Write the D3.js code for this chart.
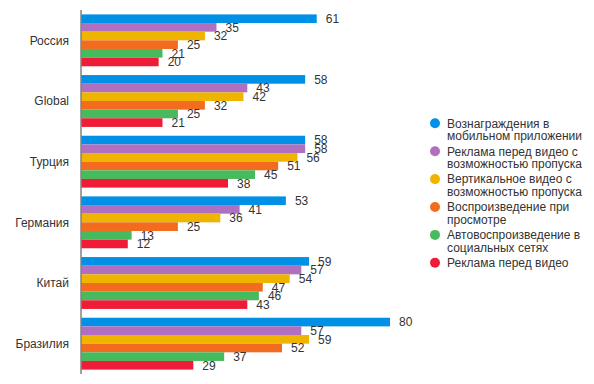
<!DOCTYPE html>
<html>
<head>
<meta charset="utf-8">
<script src="https://cdn.jsdelivr.net/npm/d3@7"></script>
<style>
  body { margin: 0; background: #fff; }
  text { font-family: Arial, "Liberation Sans", sans-serif; font-size: 12px; fill: #333; }
</style>
</head>
<body>
<svg class="scene"></svg>
<script>

//
// data
//

var countries = ["Россия", "Global", "Турция", "Германия", "Китай", "Бразилия"];

var series = [
    "Вознаграждения в мобильном приложении",
    "Реклама перед видео с возможностью пропуска",
    "Вертикальное видео с возможностью пропуска",
    "Воспроизведение при просмотре",
    "Автовоспроизведение в социальных сетях",
    "Реклама перед видео"
];

var legend_lines = [
    ["Вознаграждения в", "мобильном приложении"],
    ["Реклама перед видео с", "возможностью пропуска"],
    ["Вертикальное видео с", "возможностью пропуска"],
    ["Воспроизведение при", "просмотре"],
    ["Автовоспроизведение в", "социальных сетях"],
    ["Реклама перед видео"]
];

// one array per series, in country order
var rewards    = [61, 58, 58, 53, 59, 80];
var skippable  = [35, 43, 58, 41, 57, 57];
var vertical   = [32, 42, 56, 36, 54, 59];
var onView     = [25, 32, 51, 25, 47, 52];
var autoplay   = [21, 25, 45, 13, 46, 37];
var preroll    = [20, 21, 38, 12, 43, 29];

var values = [rewards, skippable, vertical, onView, autoplay, preroll];

var colors = ["#0091e6", "#b070bf", "#efb400", "#f26b1e", "#48ba5e", "#ee1c37"];

//
// scene
//

var width = 594,
    height = 384;

var scene = d3.select(".scene")
    .attr("width", width)
    .attr("height", height);

var x = d3.scaleLinear()
    .domain([0, 80])
    .range([81.5, 390]);

var y = d3.scaleBand()
    .domain(countries)
    .range([10, 374])
    .paddingInner(0.145)
    .paddingOuter(0.0725);

var ySub = d3.scaleBand()
    .domain(d3.range(series.length))
    .range([0, y.bandwidth()]);

//
// bars
//

var groups = scene.selectAll("g.group")
    .data(countries)
    .enter().append("g")
    .attr("class", "group")
    .attr("transform", function (d) {
        return "translate(0," + y(d) + ")";
    });

groups.each(function (c, ci) {
    var g = d3.select(this);
    var rows = series.map(function (s, si) {
        return { s: si, v: values[si][ci] };
    });

    g.selectAll("rect")
        .data(rows)
        .enter().append("rect")
        .attr("x", x(0))
        .attr("y", function (d) { return ySub(d.s); })
        .attr("width", function (d) { return x(d.v) - x(0); })
        .attr("height", ySub.bandwidth())
        .attr("fill", function (d) { return colors[d.s]; });

    g.selectAll("text.value")
        .data(rows)
        .enter().append("text")
        .attr("class", "value")
        .attr("x", function (d) { return x(d.v) + 9; })
        .attr("y", function (d) { return ySub(d.s) + ySub.bandwidth() / 2; })
        .attr("dy", "0.36em")
        .text(function (d) { return d.v; });
});

// category labels
scene.selectAll("text.cat")
    .data(countries)
    .enter().append("text")
    .attr("class", "cat")
    .attr("x", 69)
    .attr("y", function (d) { return y(d) + y.bandwidth() / 2; })
    .attr("dy", "0.36em")
    .attr("text-anchor", "end")
    .text(function (d) { return d; });

// axis line
scene.append("line")
    .attr("x1", x(0) - 0.5)
    .attr("x2", x(0) - 0.5)
    .attr("y1", 10)
    .attr("y2", 374)
    .attr("stroke", "#444")
    .attr("stroke-width", 1);

//
// legend
//

var legend = scene.selectAll("g.legend")
    .data(legend_lines)
    .enter().append("g")
    .attr("class", "legend")
    .attr("transform", function (d, i) {
        return "translate(435," + (123.3 + i * 27.9) + ")";
    });

legend.append("circle")
    .attr("r", 5)
    .attr("fill", function (d, i) { return colors[i]; });

legend.each(function (lines) {
    var g = d3.select(this);
    lines.forEach(function (l, k) {
        g.append("text")
            .attr("x", 12)
            .attr("y", k * 12.5)
            .attr("dy", "0.36em")
            .text(l);
    });
});

</script>
</body>
</html>
